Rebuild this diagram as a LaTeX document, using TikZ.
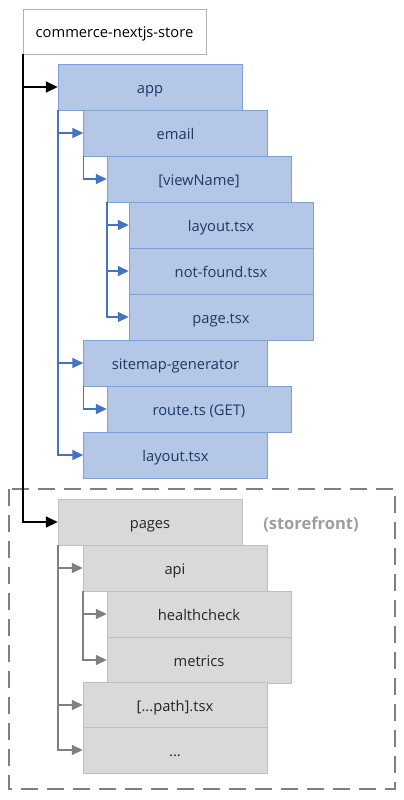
\documentclass[tikz,border=0pt]{standalone}
\usepackage{fontspec}
\setmainfont{Open Sans}
\usetikzlibrary{arrows.meta}

\definecolor{appfill}{RGB}{180,199,231}
\definecolor{appedge}{RGB}{126,160,214}
\definecolor{appink}{RGB}{31,56,100}
\definecolor{appwire}{RGB}{68,114,196}
\definecolor{pagefill}{RGB}{217,217,217}
\definecolor{pageedge}{RGB}{191,191,191}
\definecolor{pagewire}{RGB}{128,128,128}

\tikzset{
  label text/.style={text height=13pt, text depth=1pt},
  dirbox/.style={draw, minimum width=184pt, minimum height=46pt, inner sep=0pt, label text, font=\fontsize{14.7}{17}\selectfont},
  rootbox/.style={dirbox, fill=white, draw=black!30, text=black, minimum width=183pt, minimum height=45pt},
  appbox/.style={dirbox, fill=appfill, draw=appedge, text=appink},
  pagebox/.style={dirbox, fill=pagefill, draw=pageedge, text=black!85},
  wire/.style={-{Triangle[length=11pt,width=10pt]}, line width=1.6pt},
  rootwire/.style={wire, draw=black, -{Triangle[length=12pt,width=11pt]}},
  appwire/.style={wire, draw=appwire},
  pagewire/.style={wire, draw=pagewire},
}

\begin{document}
\begin{tikzpicture}[x=1pt, y=-1pt]
        \useasboundingbox (0,0) rectangle (404,800);

        \node[rootbox] (root) at (114.5,31.5) {commerce-nextjs-store}; %root

        % app router
        \node[appbox] (app) at (150,87) {app}; %app
        \node[appbox] (email) at (175.5,133) {email}; %email
        \node[appbox] (viewname) at (199,179) {[viewName]}; %viewName
        \node[appbox] (viewlayout) at (221,225) {layout.tsx}; %layout
        \node[appbox] (notfound) at (221,271) {not-found.tsx}; %not-found
        \node[appbox] (viewpage) at (221,317) {page.tsx}; %page
        \node[appbox] (sitemap) at (175.5,363) {sitemap-generator}; %sitemap
        \node[appbox] (route) at (199,409) {route.ts (GET)}; %route
        \node[appbox] (applayout) at (175.5,455) {layout.tsx}; %layout

        % pages router
        \draw[pagewire, -, line width=1.8pt, dash pattern=on 17pt off 9pt] (9,489) rectangle (395,789);
        \node[label text, inner sep=0pt, text=black!38, font=\fontsize{16.5}{19}\selectfont\bfseries] (storefront) at (311,523) {(storefront)};
        \node[pagebox] (pages) at (150,522) {pages}; %pages
        \node[pagebox] (api) at (175,568) {api}; %api
        \node[pagebox] (health) at (199,614) {healthcheck}; %healthcheck
        \node[pagebox] (metrics) at (199,660) {metrics}; %metrics
        \node[pagebox] (catchall) at (175,705) {[...path].tsx}; %catch-all
        \node[pagebox] (more) at (175,750) {...}; %more

        \draw[rootwire] (root.south west) |- (app.west);
        \draw[rootwire] (root.south west) |- (pages.west);

        \draw[appwire] (app.south west) |- (email.west);
        \draw[appwire] (app.south west) |- (sitemap.west);
        \draw[appwire] (app.south west) |- (applayout.west);
        \draw[appwire] (email.south west) |- (viewname.west);
        \draw[appwire] (viewname.south west) |- (viewlayout.west);
        \draw[appwire] (viewname.south west) |- (notfound.west);
        \draw[appwire] (viewname.south west) |- (viewpage.west);
        \draw[appwire] (sitemap.south west) |- (route.west);

        \draw[pagewire] (pages.south west) |- (api.west);
        \draw[pagewire] (pages.south west) |- (catchall.west);
        \draw[pagewire] (pages.south west) |- (more.west);
        \draw[pagewire] (api.south west) |- (health.west);
        \draw[pagewire] (api.south west) |- (metrics.west);
    \end{tikzpicture}
\end{document}
